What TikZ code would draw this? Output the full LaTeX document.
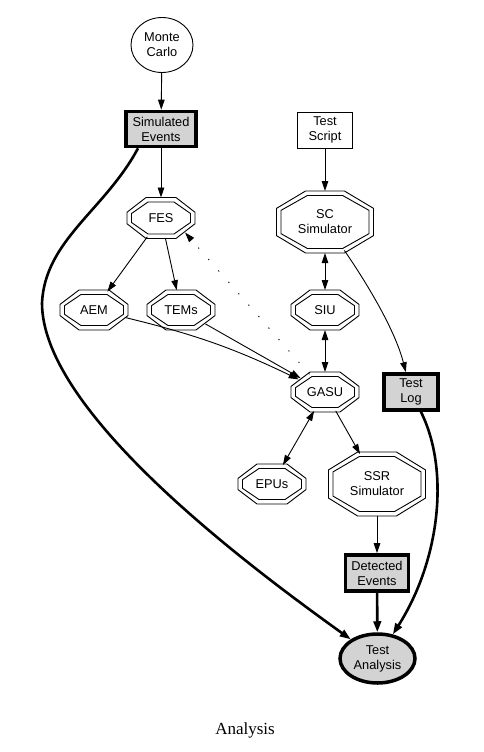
\documentclass[tikz,border=0pt]{standalone}
\usepackage{fontspec}
\setmainfont{Liberation Sans}
\newfontfamily\capfont{Liberation Serif}
\usetikzlibrary{arrows.meta,shapes.geometric}
\definecolor{boxgray}{RGB}{211,211,211}
\newcommand\octpath[6]{%
 \draw[octline] ({#1-#5*(#3)},{#2-(#4)/2}) -- ({#1+#5*(#3)},{#2-(#4)/2}) -- ({#1+(#3)/2},{#2-#6*(#4)}) -- ({#1+(#3)/2},{#2+#6*(#4)}) -- ({#1+#5*(#3)},{#2+(#4)/2}) -- ({#1-#5*(#3)},{#2+(#4)/2}) -- ({#1-(#3)/2},{#2+#6*(#4)}) -- ({#1-(#3)/2},{#2-#6*(#4)}) -- cycle;}
\newcommand\octnode[8]{%
 \node[octtext, minimum width=#4pt, minimum height=#5pt] (#1) at (#2,#3) {#8};
 \octpath{#2}{#3}{#4}{#5}{#6}{#7}
 \octpath{#2}{#3}{#4-9}{#5-9}{#6}{#7}}
\begin{document}
\begin{tikzpicture}[x=1pt,y=-1pt,
  lbl/.style={font=\fontsize{12.8}{15}\selectfont, align=center},
  octtext/.style={lbl, ellipse, inner sep=0pt, outer sep=0pt},
  octline/.style={draw, line width=0.9pt, line join=miter},
  thinbox/.style={lbl, rectangle, draw, line width=0.9pt, inner sep=0pt},
  thickbox/.style={lbl, rectangle, draw, fill=boxgray, line width=3.6pt, inner sep=0pt},
  thinedge/.style={draw, line width=0.9pt, -{Triangle[length=10pt,width=6.5pt]}},
  bothedge/.style={draw, line width=0.9pt, {Triangle[length=10pt,width=6.5pt]}-{Triangle[length=10pt,width=6.5pt]}},
  dotedge/.style={draw, line width=0.9pt, dash pattern=on 1.2pt off 14pt, -{Triangle[length=10pt,width=6.5pt]}},
  thickedge/.style={draw, line width=2.6pt, -{Triangle[length=11pt,width=7.5pt]}},
  capstyle/.style={font=\capfont\fontsize{17}{20}\selectfont}]
\useasboundingbox[fill=white] (0,0) rectangle (484,752);

% nodes
\node[lbl, ellipse, draw, line width=0.9pt, inner sep=0pt, minimum width=62pt, minimum height=55pt] (MC) at (162,45) {Monte\\Carlo};
\node[thickbox, minimum width=70pt, minimum height=35pt] (SE) at (161,129) {Simulated\\Events};
\node[thinbox, minimum width=55pt, minimum height=36pt] (TS) at (325,130) {Test\\Script};
\octnode{FES}{161}{218}{68}{41}{0.22}{0.14}{FES}
\octnode{AEM}{94}{310}{68}{40}{0.22}{0.14}{AEM}
\octnode{TEMs}{181}{310}{68}{40}{0.22}{0.14}{TEMs}
\octnode{SC}{325}{222}{97}{62}{0.20}{0.22}{SC\\Simulator}
\octnode{SIU}{325}{310}{68}{40}{0.22}{0.14}{SIU}
\octnode{GASU}{325}{392}{68}{40}{0.22}{0.14}{GASU}
\node[thickbox, minimum width=54pt, minimum height=36pt] (TL) at (411,392) {Test\\Log};
\octnode{EPUs}{272}{484}{68}{40}{0.22}{0.14}{EPUs}
\octnode{SSR}{377}{484}{97}{64}{0.20}{0.22}{SSR\\Simulator}
\node[thickbox, minimum width=63pt, minimum height=36pt] (DE) at (377,573) {Detected\\Events};
\node[lbl, ellipse, draw, fill=boxgray, line width=3.5pt, inner sep=0pt, minimum width=75pt, minimum height=49pt] (TA) at (377.5,658.5) {Test\\Analysis};
\node[capstyle, anchor=base] (cap) at (245,734) {Analysis};

\coordinate (lft) at (42,303);

% connectors
\draw[thinedge] (MC) -- (SE);
\draw[thinedge] (SE) -- (FES);
\draw[thinedge] (TS) -- (SC);
\draw[thinedge] (FES) -- (AEM);
\draw[thinedge] (FES) -- (TEMs);
\draw[dotedge] (GASU) -- (FES.south east);
\draw[bothedge] (SC) -- (SIU);
\draw[bothedge] (SIU) -- (GASU);
\draw[thinedge] (AEM) to[bend left=6] (GASU);
\draw[thinedge] (TEMs) -- (GASU);
\draw[thinedge] (SC) .. controls (368,285) and (395,330) .. (TL);
\draw[bothedge] (GASU) -- (EPUs);
\draw[thinedge] (GASU) -- (SSR);
\draw[thinedge] (SSR) -- (DE);
\draw[thickedge] (DE) -- (TA);
\draw[thickedge] (TL) .. controls (450,470) and (440,560) .. (TA);
\draw[thickedge] (SE.-140) .. controls (105,210) and (45,240) .. (lft) .. controls (42,410) and (240,560) .. (TA);
\end{tikzpicture}
\end{document}
